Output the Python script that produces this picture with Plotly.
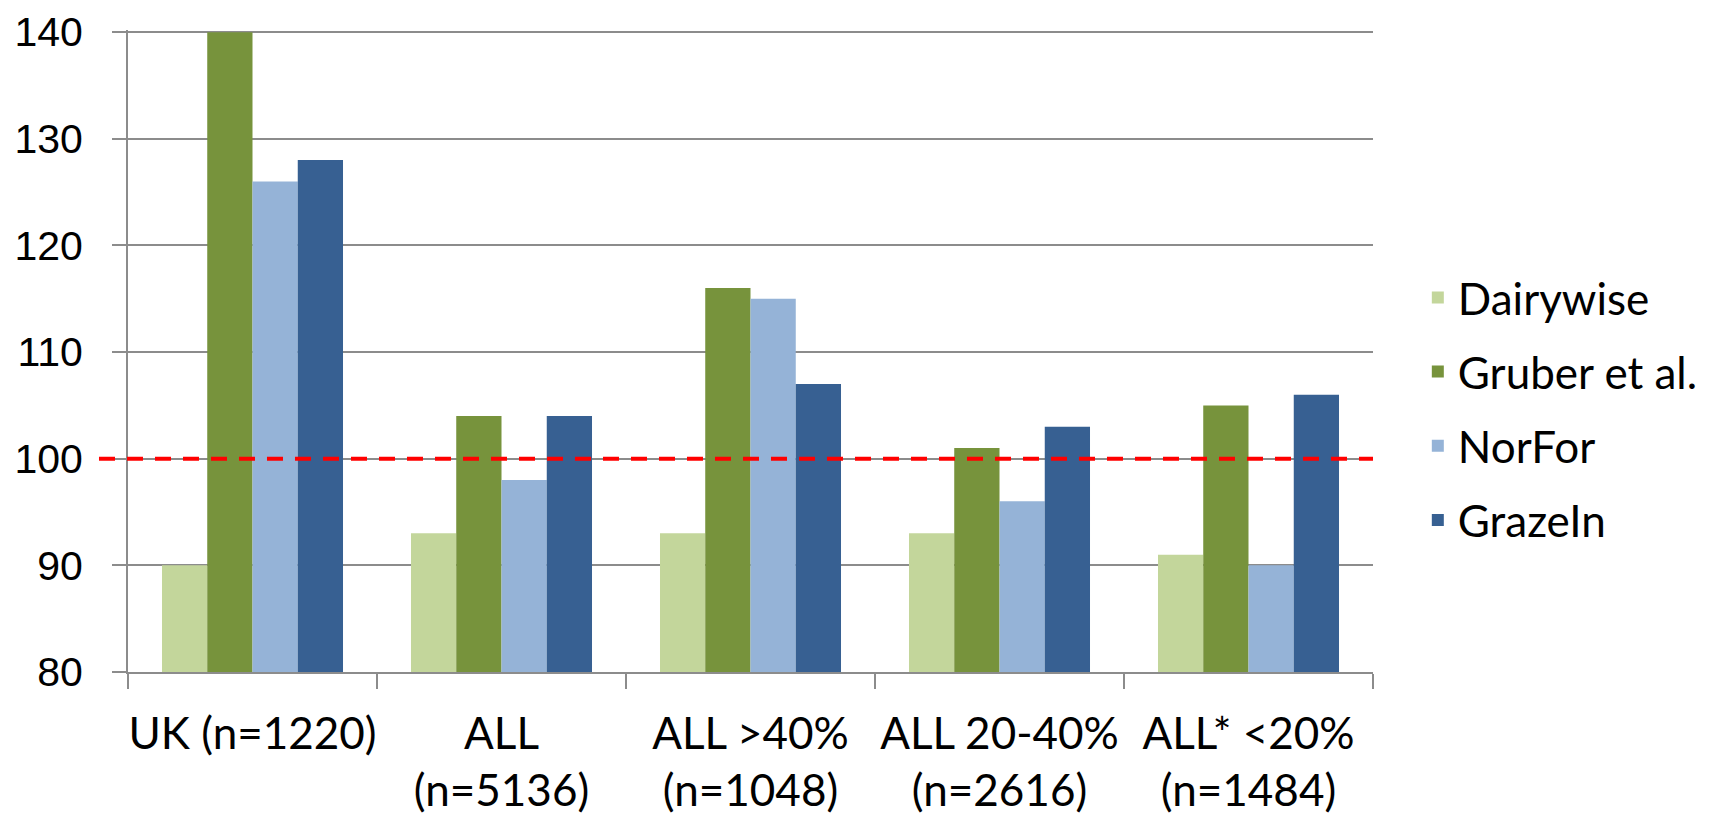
import plotly.graph_objects as go

categories = ["UK (n=1220)", "ALL (n=5136)", "ALL >40% (n=1048)", "ALL 20-40% (n=2616)", "ALL* <20% (n=1484)"]
tick_labels = ["UK (n=1220)", "ALL<br>(n=5136)", "ALL >40%<br>(n=1048)", "ALL 20-40%<br>(n=2616)", "ALL* <20%<br>(n=1484)"]

dairywise = [90, 93, 93, 93, 91]
gruber = [140, 104, 116, 101, 105]
norfor = [126, 98, 115, 96, 90]
grazein = [128, 104, 107, 103, 106]

series_names = ["Dairywise", "Gruber et al.", "NorFor", "GrazeIn"]
series_values = [dairywise, gruber, norfor, grazein]
series_colors = ["#C3D69B", "#77933C", "#95B3D7", "#376092"]

reference_value = 100
y_range = [80, 140.2]
y_ticks = [80, 90, 100, 110, 120, 130, 140]

FONT = "Lato"
YFONT = "Liberation Sans"
GRID = "#8C8C8C"

fig = go.Figure()
for i, (name, vals, col) in enumerate(zip(series_names, series_values, series_colors)):
    fig.add_trace(go.Bar(
        x=categories, y=vals, name=name,
        marker=dict(color=col, line=dict(width=0)),
        legendgroup=f"g{i}",
    ))

fig.add_shape(
    type="line", xref="paper", yref="y",
    x0=-0.0233, x1=1.0, y0=reference_value, y1=reference_value,
    line=dict(color="#FF0000", width=4, dash="16px,12px"),
    layer="above",
)

fig.update_layout(
    template="none",
    width=1723, height=816,
    margin=dict(l=120, r=358, t=22, b=152, autoexpand=False),
    paper_bgcolor="white", plot_bgcolor="white",
    barmode="group", bargap=0.273, bargroupgap=0,
    font=dict(family=FONT, size=44, color="black"),
    legend=dict(
        x=1.036, xanchor="left", y=0.41, yanchor="middle",
        font=dict(family=FONT, size=44, color="black"),
        tracegroupgap=14, traceorder="grouped",
        bgcolor="rgba(0,0,0,0)", borderwidth=0,
    ),
    showlegend=True,
)

fig.update_xaxes(
    type="category", automargin=False,
    tickvals=categories, ticktext=tick_labels,
    tickangle=0,
    ticks="outside", tickson="boundaries", ticklen=15, tickwidth=2, tickcolor=GRID,
    showline=True, linecolor=GRID, linewidth=2,
    showgrid=False, zeroline=False,
    tickfont=dict(family=FONT, size=44, color="black"),
    ticklabelstandoff=22,
)

fig.update_yaxes(
    range=y_range, tickvals=y_ticks, automargin=False,
    ticks="outside", ticklen=14, tickwidth=2, tickcolor=GRID,
    showline=True, linecolor=GRID, linewidth=2,
    showgrid=True, gridcolor=GRID, gridwidth=2,
    zeroline=False,
    tickfont=dict(family=YFONT, size=41, color="black"),
    ticklabelstandoff=21, ticklabeloverflow="allow",
)

fig.write_html("out.html")
